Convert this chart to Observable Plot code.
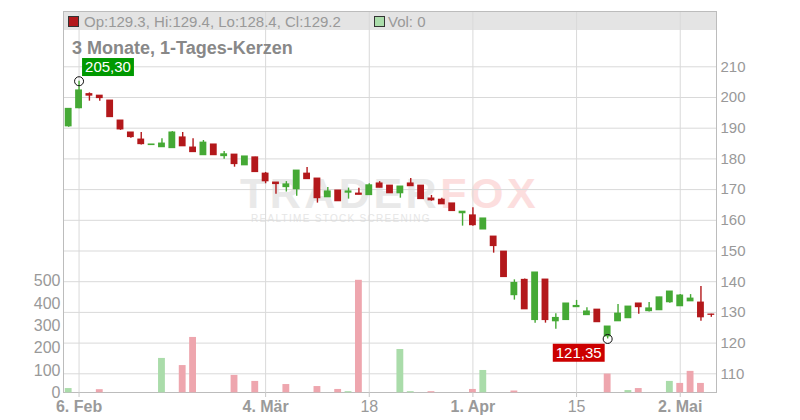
<!DOCTYPE html>
<html><head><meta charset="utf-8">
<script src="https://cdn.jsdelivr.net/npm/d3@7"></script>
<script src="https://cdn.jsdelivr.net/npm/@observablehq/plot@0.6"></script>
<style>
html,body{margin:0;padding:0;background:#fff;}
#wrap{position:relative;width:800px;height:420px;overflow:hidden;font-family:"Liberation Sans",Arial,sans-serif;}
#wrap > svg{position:absolute;left:0;top:0;}
</style>
</head><body>
<div id="wrap">
<svg id="bg" width="800" height="420">
  <rect x="63" y="11" width="653" height="19" fill="#e4e4e4"></rect>
  <text x="240" y="208" font-size="43" font-weight="bold" letter-spacing="3.5" font-family="Liberation Sans, Arial, sans-serif"><tspan fill="#e9e9e9">TRADER</tspan><tspan fill="#fcdede">FOX</tspan></text>
  <text x="251" y="222" font-size="10" letter-spacing="1.3" fill="#e6e6e6" font-family="Liberation Sans, Arial, sans-serif">REALTIME STOCK SCREENING</text>
</svg>
</div>
<script>
// ---- data (one entry per trading day) ----
const open  = [190.6,196.5,201.1,200.6,199.0,192.5,188.6,186.3,184.5,183.8,
               183.5,187.0,183.7,181.2,184.7,180.9,181.4,177.9,180.5,175.2,
               172.3,170.8,170.1,175.2,173.6,167.5,169.7,169.0,168.7,168.2,
               172.0,171.3,168.8,172.0,171.3,167.1,166.7,165.5,162.3,161.6,
               157.0,154.7,149.8,135.6,140.6,127.5,140.7,127.1,127.5,131.7,
               129.1,130.9,122.2,127.1,128.1,132.9,130.4,130.7,133.3,132.0,
               133.6,133.2,129.3];
const high  = [196.3,205.3,201.5,200.6,199.0,192.5,188.6,188.6,184.7,186.6,
               188.9,188.6,186.6,186.0,184.7,182.4,181.4,180.8,180.5,175.6,
               172.3,172.6,176.2,177.2,173.6,170.7,169.7,170.5,170.4,171.9,
               172.6,171.3,171.0,173.6,171.3,168.1,167.2,165.5,162.8,164.1,
               160.6,154.7,149.8,140.6,140.9,143.0,140.7,129.6,132.9,133.9,
               131.5,130.9,125.4,132.6,131.9,132.9,133.2,134.9,136.8,135.8,
               135.8,138.4,129.4];
const low   = [190.3,196.3,198.8,198.8,193.6,189.3,186.7,184.5,184.5,183.8,
               183.5,184.1,182.2,181.2,181.2,179.9,177.3,177.9,175.7,171.9,
               168.5,169.2,167.8,173.4,165.6,167.5,166.2,166.9,168.3,168.2,
               170.6,168.8,167.2,171.1,166.9,166.2,165.2,163.0,158.1,158.1,
               157.0,149.3,141.5,134.0,131.0,126.5,126.5,124.5,127.5,131.7,
               129.1,126.8,121.35,127.1,128.1,129.4,130.1,130.7,133.0,132.0,
               133.6,127.1,128.4];
const close = [196.3,202.3,200.6,199.8,193.6,189.6,187.1,184.8,184.7,185.0,
               188.6,184.1,182.2,185.3,181.2,181.5,178.3,180.8,175.7,172.7,
               171.8,171.7,176.2,173.4,167.2,169.4,166.2,169.4,168.3,171.4,
               170.6,168.8,171.0,171.1,166.9,166.5,165.2,163.0,162.8,158.4,
               160.6,151.6,141.5,139.6,131.0,143.0,127.5,128.2,132.9,132.1,
               130.3,126.8,125.4,129.6,131.9,131.7,131.3,134.9,136.8,135.5,
               134.5,128.4,129.2];
const volume = [19,0,0,14,0,0,0,0,0,154,
                0,122,248,0,0,0,78,0,51,0,
                0,37,0,0,28,0,15,5,504,0,
                0,0,194,5,0,5,0,0,0,15,
                100,0,0,8,0,0,0,0,0,0,
                0,0,84,0,10,19,0,0,51,42,
                96,42,0];
const priceTicks  = [110,120,130,140,150,160,170,180,190,200,210];
const volumeTicks = [0,100,200,300,400,500];
const tickIndex   = [1,19,29,39,49,59];
const tickLabels  = ["6. Feb","4. Mär","18","1. Apr","15","2. Mai"];
const tickBold    = [true,true,false,true,false,true];
const titleText   = "3 Monate, 1-Tages-Kerzen";
const legendText  = "Op:129.3, Hi:129.4, Lo:128.4, Cl:129.2";
const volLegend   = "Vol: 0";

// ---- styles ----
const GREEN = "#45a935", RED = "#b3181b", VGREEN = "#aadcaa", VRED = "#eea6ae";
const FONT = "Liberation Sans, Arial, sans-serif";
const idx = d3.range(open.length);
const up = i => close[i] >= open[i];
const volUp = i => i === 0 ? close[i] >= open[i] : close[i] >= close[i-1];
const maxI = d3.maxIndex(high), minI = d3.minIndex(low);
const fmt = v => v.toFixed(2).replace(".", ",");
const labelOf = d => tickLabels[tickIndex.indexOf(d)];
const boldTicks = tickIndex.filter((d,k) => tickBold[k]);
const normTicks = tickIndex.filter((d,k) => !tickBold[k]);

const common = {
  width: 800, height: 420,
  marginLeft: 63, marginRight: 84, marginTop: 11, marginBottom: 28,
  style: {background: "transparent", fontFamily: FONT},
  color: {type: "identity"},
  x: {domain: [-0.5, open.length - 0.5], axis: null}
};

const price = Plot.plot({
  ...common,
  y: {domain: [110, 210], range: [373.3, 66.3], axis: null},
  marks: [
    Plot.gridY(priceTicks, {stroke: "#d9d9d9", strokeOpacity: 1}),
    Plot.gridX(tickIndex, {stroke: "#d9d9d9", strokeOpacity: 1}),
    Plot.frame({stroke: "#bcbcbc"}),
    Plot.axisY(priceTicks, {anchor: "right", tickSize: 0, tickPadding: 4, fontSize: 15, fill: "#999", label: null}),
    Plot.axisX(boldTicks, {anchor: "bottom", tickSize: 5, tickPadding: 3, fontSize: 16, fontWeight: "bold",
      fill: "#9a9a9a", stroke: "#c8c8c8", tickFormat: labelOf, label: null}),
    Plot.axisX(normTicks, {anchor: "bottom", tickSize: 5, tickPadding: 3, fontSize: 16,
      fill: "#9a9a9a", stroke: "#c8c8c8", tickFormat: labelOf, label: null}),
    Plot.ruleX(idx, {x: i => i, y1: i => low[i], y2: i => high[i], stroke: i => up(i) ? GREEN : RED, strokeWidth: 1.4}),
    Plot.rect(idx, {x1: i => i - 0.33, x2: i => i + 0.33, y1: i => open[i], y2: i => close[i],
      fill: i => up(i) ? GREEN : RED, insetTop: -0.5, insetBottom: -0.5}),
    Plot.dot([maxI, minI], {x: i => i, y: i => i === maxI ? high[i] : low[i], r: 4.5, stroke: "#111", fill: "none", strokeWidth: 1}),
    Plot.text([maxI], {x: i => i, y: i => high[i], text: i => fmt(high[i]), dx: 6, dy: -14,
      textAnchor: "start", lineAnchor: "middle", fill: "white", fontSize: 15}),
    Plot.text([minI], {x: i => i, y: i => low[i], text: i => fmt(low[i]), dx: -6, dy: 14,
      textAnchor: "end", lineAnchor: "middle", fill: "white", fontSize: 15})
  ]
});

const vol = Plot.plot({
  ...common,
  y: {domain: [0, 500], range: [392.3, 280.7], axis: null},
  marks: [
    Plot.rect(idx.filter(i => volume[i] > 0), {x1: i => i - 0.33, x2: i => i + 0.33, y1: 0, y2: i => volume[i],
      fill: i => volUp(i) ? VGREEN : VRED}),
    Plot.axisY(volumeTicks, {anchor: "left", tickSize: 0, tickPadding: 3, fontSize: 16, fill: "#999", label: null})
  ]
});

const wrap = document.getElementById("wrap");
wrap.appendChild(price);
wrap.appendChild(vol);

// label backgrounds (matched by their text)
const NS = "http://www.w3.org/2000/svg";
const boxes = new Map([[fmt(high[maxI]), "#009900"], [fmt(low[minI]), "#cc0000"]]);
price.querySelectorAll("text").forEach(t => {
  const col = boxes.get(t.textContent);
  if (!col) return;
  const b = t.getBBox();
  const r = document.createElementNS(NS, "rect");
  r.setAttribute("x", b.x - 3); r.setAttribute("y", b.y);
  r.setAttribute("width", b.width + 6); r.setAttribute("height", b.height + 1);
  r.setAttribute("fill", col);
  const tr = t.getAttribute("transform"); if (tr) r.setAttribute("transform", tr);
  t.parentNode.insertBefore(r, t);
});

// overlay texts (title + legend)
const ov = document.createElementNS(NS, "svg");
ov.setAttribute("width", 800); ov.setAttribute("height", 420);
ov.style.pointerEvents = "none";
ov.innerHTML = `
  <rect x="68.5" y="16.5" width="10" height="10" fill="${RED}" stroke="#333" stroke-width="1"></rect>
  <text x="84" y="27.3" font-size="15" fill="#999" font-family="${FONT}">${legendText}</text>
  <rect x="374.5" y="16.5" width="10" height="10" fill="${VGREEN}" stroke="#333" stroke-width="1"></rect>
  <text x="388" y="27.3" font-size="15" fill="#999" font-family="${FONT}">${volLegend}</text>
  <text x="72" y="53.5" font-size="18" font-weight="bold" fill="#888" font-family="${FONT}">${titleText}</text>`;
wrap.appendChild(ov);
</script>
</body></html>
